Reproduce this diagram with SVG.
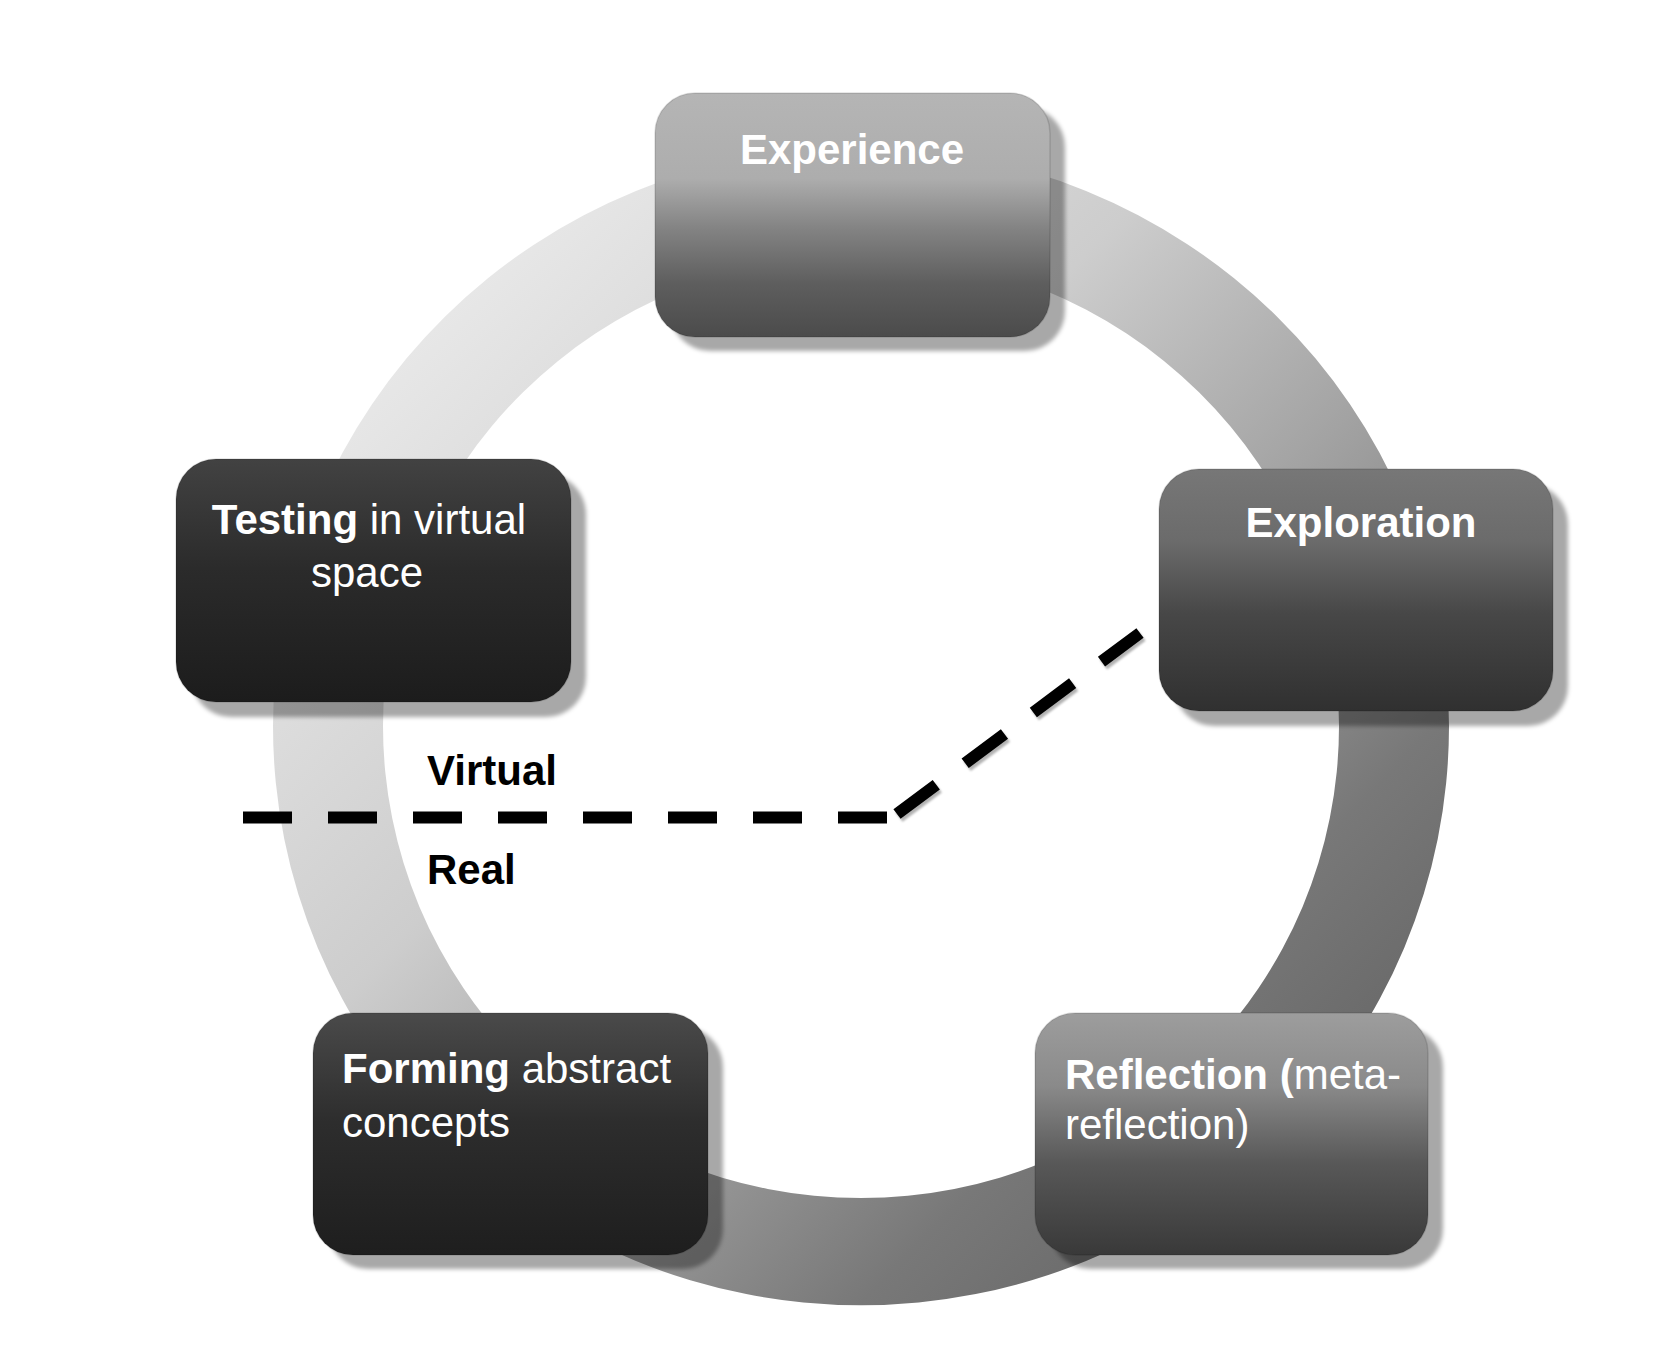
<svg xmlns="http://www.w3.org/2000/svg" width="1664" height="1360" viewBox="0 0 1664 1360">
  <style>
    .t{font-family:"Liberation Sans",Arial,Helvetica,sans-serif;font-size:42px;fill:#ffffff}
    .b{font-weight:bold}
    .ax{font-family:"Liberation Sans",Arial,Helvetica,sans-serif;font-size:42px;font-weight:bold;fill:#000000}
    .shadow{fill:#000000;fill-opacity:0.34;filter:url(#blur)}
    .box{stroke:#000000;stroke-opacity:0.12;stroke-width:1.5}
    .dash{fill:none;stroke:#000000;stroke-width:12;stroke-dasharray:49 36;stroke-linecap:butt}
    .dashsh{fill:none;stroke:#000000;stroke-opacity:0.3;stroke-width:12;stroke-dasharray:49 36;filter:url(#blur1)}
  </style>
  <defs>
    <filter id="blur" x="-10%" y="-10%" width="120%" height="120%">
      <feGaussianBlur stdDeviation="2"/>
    </filter>
    <filter id="blur1" x="-10%" y="-50%" width="120%" height="200%">
      <feGaussianBlur stdDeviation="1.2"/>
    </filter>
    <linearGradient id="ringG" gradientUnits="userSpaceOnUse" x1="449" y1="314" x2="1273" y2="1138">
      <stop offset="0" stop-color="#e7e7e7"/>
      <stop offset="0.35" stop-color="#cdcdcd"/>
      <stop offset="0.6" stop-color="#a4a4a4"/>
      <stop offset="0.85" stop-color="#787878"/>
      <stop offset="1" stop-color="#6a6a6a"/>
    </linearGradient>
    <linearGradient id="gExp" x1="0" y1="0" x2="0" y2="1">
      <stop offset="0" stop-color="#b5b5b5"/>
      <stop offset="0.35" stop-color="#adadad"/>
      <stop offset="0.55" stop-color="#848484"/>
      <stop offset="0.78" stop-color="#5e5e5e"/>
      <stop offset="1" stop-color="#4b4b4b"/>
    </linearGradient>
    <linearGradient id="gXpl" x1="0" y1="0" x2="0" y2="1">
      <stop offset="0" stop-color="#777777"/>
      <stop offset="0.3" stop-color="#6b6b6b"/>
      <stop offset="0.6" stop-color="#474747"/>
      <stop offset="1" stop-color="#303030"/>
    </linearGradient>
    <linearGradient id="gTst" x1="0" y1="0" x2="0" y2="1">
      <stop offset="0" stop-color="#424242"/>
      <stop offset="0.45" stop-color="#2b2b2b"/>
      <stop offset="1" stop-color="#1c1c1c"/>
    </linearGradient>
    <linearGradient id="gFrm" x1="0" y1="0" x2="0" y2="1">
      <stop offset="0" stop-color="#4a4a4a"/>
      <stop offset="0.45" stop-color="#2d2d2d"/>
      <stop offset="1" stop-color="#1e1e1e"/>
    </linearGradient>
    <linearGradient id="gRfl" x1="0" y1="0" x2="0" y2="1">
      <stop offset="0" stop-color="#9d9d9d"/>
      <stop offset="0.3" stop-color="#8a8a8a"/>
      <stop offset="0.62" stop-color="#585858"/>
      <stop offset="1" stop-color="#393939"/>
    </linearGradient>
  </defs>

  <rect x="0" y="0" width="1664" height="1360" fill="#ffffff"/>

  <path id="ring" fill="url(#ringG)" fill-rule="evenodd"
        d="M 273 726 A 588 579 0 1 0 1449 726 A 588 579 0 1 0 273 726 Z M 383 726 A 478 472 0 1 0 1339 726 A 478 472 0 1 0 383 726 Z"/>

  <g id="connectors">
    <path class="dashsh" transform="translate(2,3)" d="M 243 817.5 L 890 817.5"/>
    <path class="dashsh" transform="translate(2,3)" d="M 897 814 L 1140 633"/>
    <path class="dash" d="M 243 817.5 L 890 817.5"/>
    <path class="dash" d="M 897 814 L 1140 633"/>
  </g>

  <g id="labels">
    <text class="ax" x="427" y="785">Virtual</text>
    <text class="ax" x="427" y="884">Real</text>
  </g>

  <g id="node-experience">
    <rect class="shadow" x="670" y="107" width="395" height="244" rx="40"/>
    <rect class="box" x="655" y="93" width="395" height="244" rx="40" fill="url(#gExp)"/>
    <text class="t b" x="852" y="164" text-anchor="middle">Experience</text>
  </g>

  <g id="node-exploration">
    <rect class="shadow" x="1174" y="484" width="394" height="242" rx="40"/>
    <rect class="box" x="1159" y="469" width="394" height="242" rx="40" fill="url(#gXpl)"/>
    <text class="t b" x="1361" y="537" text-anchor="middle">Exploration</text>
  </g>

  <g id="node-testing">
    <rect class="shadow" x="191" y="474" width="395" height="243" rx="40"/>
    <rect class="box" x="176" y="459" width="395" height="243" rx="40" fill="url(#gTst)"/>
    <text class="t" x="369" y="534" text-anchor="middle"><tspan class="b">Testing</tspan> in virtual</text>
    <text class="t" x="367" y="587" text-anchor="middle">space</text>
  </g>

  <g id="node-forming">
    <rect class="shadow" x="328" y="1027" width="395" height="242" rx="40"/>
    <rect class="box" x="313" y="1013" width="395" height="242" rx="40" fill="url(#gFrm)"/>
    <text class="t" x="342" y="1083"><tspan class="b">Forming</tspan> abstract</text>
    <text class="t" x="342" y="1137">concepts</text>
  </g>

  <g id="node-reflection">
    <rect class="shadow" x="1050" y="1027" width="393" height="242" rx="40"/>
    <rect class="box" x="1035" y="1013" width="393" height="242" rx="40" fill="url(#gRfl)"/>
    <text class="t" x="1065" y="1089"><tspan class="b">Reflection (</tspan>meta-</text>
    <text class="t" x="1065" y="1139">reflection)</text>
  </g>
</svg>
